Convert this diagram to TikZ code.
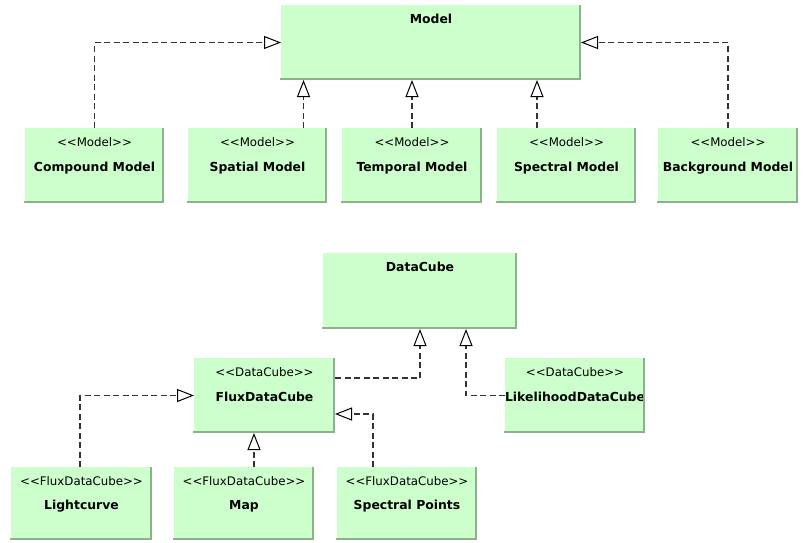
\documentclass[tikz,border=0pt]{standalone}
\usepackage{fontspec}
\setmainfont{DejaVu Sans}
\usetikzlibrary{arrows.meta,calc}
\definecolor{clsfill}{HTML}{CCFFCC}
\definecolor{clsedge}{HTML}{8DB08D}
\definecolor{dashgray}{HTML}{333333}
\newcommand{\stereotype}[1]{{<}{<}#1{>}{>}}
\tikzset{
  cls/.style={fill=clsfill, draw=none, inner sep=0pt, outer sep=0pt, anchor=north west},
  stereo/.style={font=\fontsize{11.8}{13}\selectfont, anchor=base, inner sep=0pt},
  ttl/.style={font=\fontsize{12.4}{14}\selectfont\bfseries, anchor=base, inner sep=0pt},
  realize/.style={draw=dashgray, line width=1.25pt, dash pattern=on 6pt off 3.5pt,
    -{Triangle[open, color=black, fill=white, length=17pt, width=13pt, line width=1pt]}},
  edge shade/.style={draw=clsedge, line width=2.4pt},
}
\begin{document}
\begin{tikzpicture}[x=1pt, y=-1pt]
\useasboundingbox[fill=white] (0,0) rectangle (804,542);

% ---- Model hierarchy ----
\node[cls, minimum width=300pt, minimum height=75pt] (model) at (281,5) {};
\node[ttl] (model-t) at ($(model.north)+(0,18.5)$) {Model};

\node[cls, minimum width=139pt, minimum height=75pt] (compound)   at (25,128)  {};
\node[cls, minimum width=139pt, minimum height=75pt] (spatial)    at (188,128) {};
\node[cls, minimum width=140pt, minimum height=75pt] (temporal)   at (342,128) {};
\node[cls, minimum width=139pt, minimum height=75pt] (spectral)   at (497,128) {};
\node[cls, minimum width=140pt, minimum height=75pt] (background) at (658,128) {};

\foreach \n/\t in {compound/Compound Model, spatial/Spatial Model,
                   temporal/Temporal Model, spectral/Spectral Model,
                   background/Background Model}{
  \node[stereo] (\n-s) at ($(\n.north)+(0,18)$) {\stereotype{Model}};
  \node[ttl] (\n-t) at ($(\n.north)+(0,43.5)$) {\t};
}

% ---- DataCube hierarchy ----
\node[cls, minimum width=194pt, minimum height=76pt] (datacube) at (323,253) {};
\node[ttl] (datacube-t) at ($(datacube.north)+(0,18.5)$) {DataCube};

\node[cls, minimum width=141pt, minimum height=75pt] (flux)       at (194,358) {};
\node[cls, minimum width=140pt, minimum height=75pt] (likelihood) at (505,358) {};
\foreach \n/\t in {flux/FluxDataCube, likelihood/LikelihoodDataCube}{
  \node[stereo] (\n-s) at ($(\n.north)+(0,18)$) {\stereotype{DataCube}};
  \node[ttl] (\n-t) at ($(\n.north)+(0,43.5)$) {\t};
}

\node[cls, minimum width=141pt, minimum height=73pt] (lightcurve) at (11,467)  {};
\node[cls, minimum width=140pt, minimum height=73pt] (map)        at (174,467) {};
\node[cls, minimum width=140pt, minimum height=73pt] (spoints)    at (337,467) {};
\foreach \n/\t in {lightcurve/Lightcurve, map/Map, spoints/Spectral Points}{
  \node[stereo] (\n-s) at ($(\n.north)+(0,18)$) {\stereotype{FluxDataCube}};
  \node[ttl] (\n-t) at ($(\n.north)+(0,42.5)$) {\t};
}

% darker right and bottom edges of every class box
\foreach \n in {model,compound,spatial,temporal,spectral,background,
                datacube,flux,likelihood,lightcurve,map,spoints}{
  \draw[edge shade] ([xshift=-1.2pt]\n.north east) -- ([xshift=-1.2pt,yshift=1.2pt]\n.south east)
                    -- ([xshift=-1pt,yshift=1.2pt]\n.south west);
}

% ---- realization connectors ----
\draw[realize] (compound.north) |- (model.west);
\draw[realize] ([xshift=46pt]spatial.north) -- ([xshift=46pt]spatial.north |- model.south);
\draw[realize] (temporal.north) -- (temporal.north |- model.south);
\draw[realize] ([xshift=-29.5pt]spectral.north) -- ([xshift=-29.5pt]spectral.north |- model.south);
\draw[realize] (background.north) |- (model.east);

\draw[realize] ([yshift=-20pt]flux.north east) -| (datacube.south);
\draw[realize] (likelihood.west) -| ([xshift=46pt]datacube.south);

\draw[realize] ([xshift=-1.5pt]lightcurve.north) |- (flux.west);
\draw[realize] ([xshift=10pt]map.north) -- ([xshift=10pt]map.north |- flux.south);
\draw[realize] ([xshift=-34pt]spoints.north) |- ([yshift=-18.5pt]flux.east);
\end{tikzpicture}
\end{document}
